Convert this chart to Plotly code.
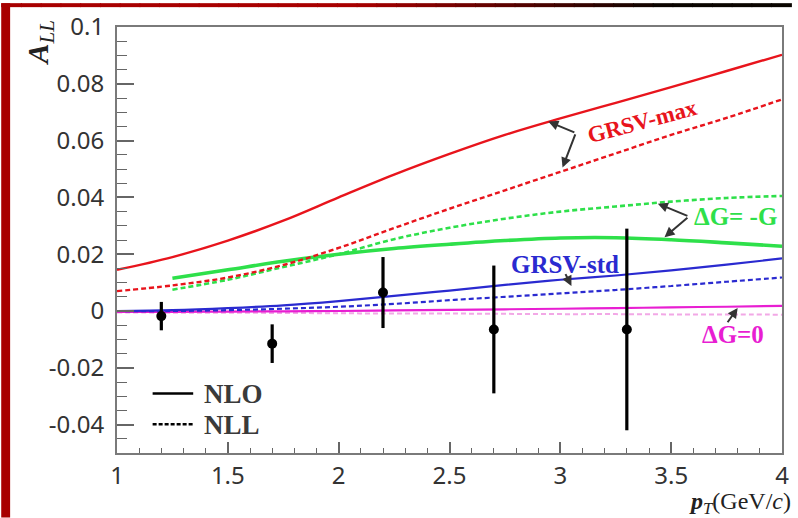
import plotly.graph_objects as go

# Theory curves: double-helicity asymmetry A_LL vs pT
pt_grid = [1.0, 1.25, 1.5, 1.75, 2.0, 2.25, 2.5, 2.75, 3.0, 3.25, 3.5, 3.75, 4.0]
grsv_max_nlo = [0.0145, 0.019, 0.0248, 0.0318, 0.040, 0.048, 0.0553, 0.062, 0.0678, 0.0733, 0.0788, 0.0845, 0.0902]
grsv_max_nll = [0.007, 0.009, 0.0118, 0.0162, 0.0222, 0.0292, 0.036, 0.0425, 0.049, 0.0555, 0.062, 0.068, 0.0745]
grsv_std_nlo = [0.0, 0.0003, 0.001, 0.002, 0.0035, 0.0053, 0.0072, 0.0092, 0.011, 0.0125, 0.0143, 0.0163, 0.0185]
grsv_std_nll = [0.0, 0.0, 0.0003, 0.0008, 0.0015, 0.0025, 0.0038, 0.005, 0.0062, 0.0074, 0.0088, 0.0103, 0.0118]
dg0_nlo = [-0.0003, -0.0003, -0.0002, -0.0001, 0.0, 0.0002, 0.0004, 0.0006, 0.0008, 0.001, 0.0013, 0.0015, 0.0018]
dg0_nll = [-0.0005, -0.0006, -0.0006, -0.0007, -0.0008, -0.0009, -0.0009, -0.001, -0.0011, -0.0011, -0.0012, -0.0012, -0.0013]

pt_grid_g = [1.25, 1.5, 1.75, 2.0, 2.25, 2.5, 2.75, 3.0, 3.25, 3.5, 3.75, 4.0]
dgm_nlo = [0.0115, 0.0145, 0.0175, 0.020, 0.022, 0.0235, 0.0248, 0.0257, 0.0258, 0.0251, 0.024, 0.0228]
dgm_nll = [0.0075, 0.011, 0.0155, 0.020, 0.0253, 0.0293, 0.0325, 0.035, 0.0368, 0.0385, 0.0398, 0.0405]

# Measured points
data_pt = [1.2, 1.7, 2.2, 2.7, 3.3]
data_all = [-0.0018, -0.0115, 0.0065, -0.0065, -0.0065]
data_err = [0.005, 0.0068, 0.0125, 0.0225, 0.0355]

x_ticks = [1, 1.5, 2, 2.5, 3, 3.5, 4]
x_tick_labels = ["1", "1.5", "2", "2.5", "3", "3.5", "4"]
y_ticks = [-0.04, -0.02, 0, 0.02, 0.04, 0.06, 0.08, 0.1]
y_tick_labels = ["-0.04", "-0.02", "0", "0.02", "0.04", "0.06", "0.08", "0.1"]

legend_names = ["NLO", "NLL"]

RED = "#e8141c"
GREEN = "#2ee04a"
BLUE = "#2a2ad0"
MAGENTA = "#e81ed2"
PINK = "#f2a8e6"
DOT = "5px,3px"

fig = go.Figure()


def curve(x, y, color, width, dash="solid"):
    fig.add_trace(go.Scatter(x=x, y=y, mode="lines", showlegend=False, hoverinfo="skip",
                             line=dict(color=color, width=width, dash=dash, shape="spline")))


curve(pt_grid, dg0_nll, PINK, 2, DOT)
curve(pt_grid, dg0_nlo, MAGENTA, 2.2)
curve(pt_grid, grsv_std_nll, BLUE, 2.2, DOT)
curve(pt_grid, grsv_std_nlo, BLUE, 2.2)
curve(pt_grid_g, dgm_nll, GREEN, 2.6, DOT)
curve(pt_grid_g, dgm_nlo, GREEN, 3.6)
curve(pt_grid, grsv_max_nll, RED, 2.4, DOT)
curve(pt_grid, grsv_max_nlo, RED, 2.4)

fig.add_trace(go.Scatter(x=data_pt, y=data_all, mode="markers", showlegend=False,
                         marker=dict(color="black", size=10),
                         error_y=dict(type="data", array=data_err, color="black", thickness=3.2, width=0)))

serif = "Liberation Serif"
ann = []


def label(text, x, y, color, angle=0, size=24):
    ann.append(dict(x=x, y=y, xref="x", yref="y", text="<b>" + text + "</b>", showarrow=False,
                    textangle=angle, font=dict(family=serif, size=size, color=color)))


def arrow(x, y, ax, ay):
    ann.append(dict(x=x, y=y, xref="x", yref="y", ax=ax, ay=ay, axref="x", ayref="y", text="",
                    showarrow=True, arrowhead=2, arrowsize=1, arrowwidth=2, arrowcolor="#333333"))


label("GRSV-max", 3.37, 0.0668, RED, angle=-15, size=23)
arrow(2.946, 0.0667, 3.07, 0.0627)
arrow(3.01, 0.0505, 3.07, 0.0627)

label("ΔG= -G", 3.79, 0.0333, GREEN, size=25)
arrow(3.44, 0.0378, 3.58, 0.0333)
arrow(3.47, 0.026, 3.58, 0.0333)

label("GRSV-std", 3.02, 0.0163, BLUE, size=25)
arrow(3.05, 0.0088, 3.02, 0.0135)

label("ΔG=0", 3.78, -0.0081, MAGENTA, size=25)
arrow(3.80, 0.0011, 3.75, -0.0045)

# Axis titles
ann.append(dict(x=-0.148, y=1.02, xref="paper", yref="paper", showarrow=False, textangle=-90,
                text="<b><i>A</i></b><sub><i>LL</i></sub>",
                font=dict(family=serif, size=30, color="#222222")))
ann.append(dict(x=1.016, y=-0.158, xref="paper", yref="paper", showarrow=False, xanchor="right",
                text="<b><i>p</i></b><sub><i>T</i></sub>(GeV/<i>c</i>)",
                font=dict(family=serif, size=24, color="#222222")))

# Page geometry in pixels
L, R, T, B = 117, 789, 24, 453


def px_to_paper(px, py):
    return (px - L) / (R - L), (B - py) / (B - T)


shapes = []

# Line-style key: solid = NLO, dashed = NLL
for name, py, dash in zip(legend_names, [393, 424], ["solid", "4px,2px"]):
    xa, ya = px_to_paper(153, py)
    xb, _ = px_to_paper(194, py)
    shapes.append(dict(type="line", xref="paper", yref="paper", x0=xa, y0=ya, x1=xb, y1=ya,
                       line=dict(color="black", width=2.5, dash=dash)))
    xt, yt = px_to_paper(203, py + 1)
    ann.append(dict(x=xt, y=yt, xref="paper", yref="paper", xanchor="left", yanchor="middle",
                    showarrow=False, text="<b>" + name + "</b>",
                    font=dict(family=serif, size=27, color="#3a3a3a")))

# Page frame: red band on the left, red-to-black band along the top
x0, y0 = px_to_paper(0, 0)
x1, y1 = px_to_paper(9, 518)
shapes.append(dict(type="rect", xref="paper", yref="paper", x0=x0, y0=y1, x1=x1, y1=y0,
                   fillcolor="#a80000", line=dict(width=0), layer="above"))
n_seg = 40
for i in range(n_seg):
    a = i / (n_seg - 1)
    t = min(1.0, max(0.0, (a - 0.45) / 0.4))
    r = int(168 * (1 - t) + 10 * t)
    g = int(0 * (1 - t) + 5 * t)
    xa, ya = px_to_paper(798 * i / n_seg, 0)
    xb, yb = px_to_paper(798 * (i + 1) / n_seg + 1, 4)
    shapes.append(dict(type="rect", xref="paper", yref="paper", x0=xa, y0=yb, x1=xb, y1=ya,
                       fillcolor=f"rgb({r},{g},0)", line=dict(width=0), layer="above"))

tick_font = dict(family="Noto Sans", size=24, color="#333333")
fig.update_layout(
    width=798, height=518,
    margin=dict(l=L, r=798 - R, t=T, b=518 - B),
    paper_bgcolor="white", plot_bgcolor="white",
    annotations=ann, shapes=shapes,
    showlegend=False,
    xaxis=dict(range=[1, 4], tickmode="array", tickvals=x_ticks, ticktext=x_tick_labels,
               ticks="inside", ticklen=11, tickwidth=1.5, tickcolor="#666666",
               minor=dict(tickmode="linear", tick0=1, dtick=0.1, ticks="inside", ticklen=5,
                          tickwidth=1.2, tickcolor="#666666"),
               showline=True, linecolor="#7a7a7a", linewidth=2, mirror=True,
               showgrid=False, zeroline=False, tickfont=tick_font, ticklabelstandoff=0),
    yaxis=dict(range=[-0.05, 0.1], tickmode="array", tickvals=y_ticks, ticktext=y_tick_labels,
               ticks="inside", ticklen=17, tickwidth=1.5, tickcolor="#666666",
               minor=dict(tickmode="linear", tick0=0, dtick=0.005, ticks="inside", ticklen=10,
                          tickwidth=1.2, tickcolor="#666666"),
               showline=True, linecolor="#7a7a7a", linewidth=2, mirror=True,
               showgrid=False, zeroline=False, tickfont=tick_font, ticklabelstandoff=6),
)

fig.write_html("out.html")
